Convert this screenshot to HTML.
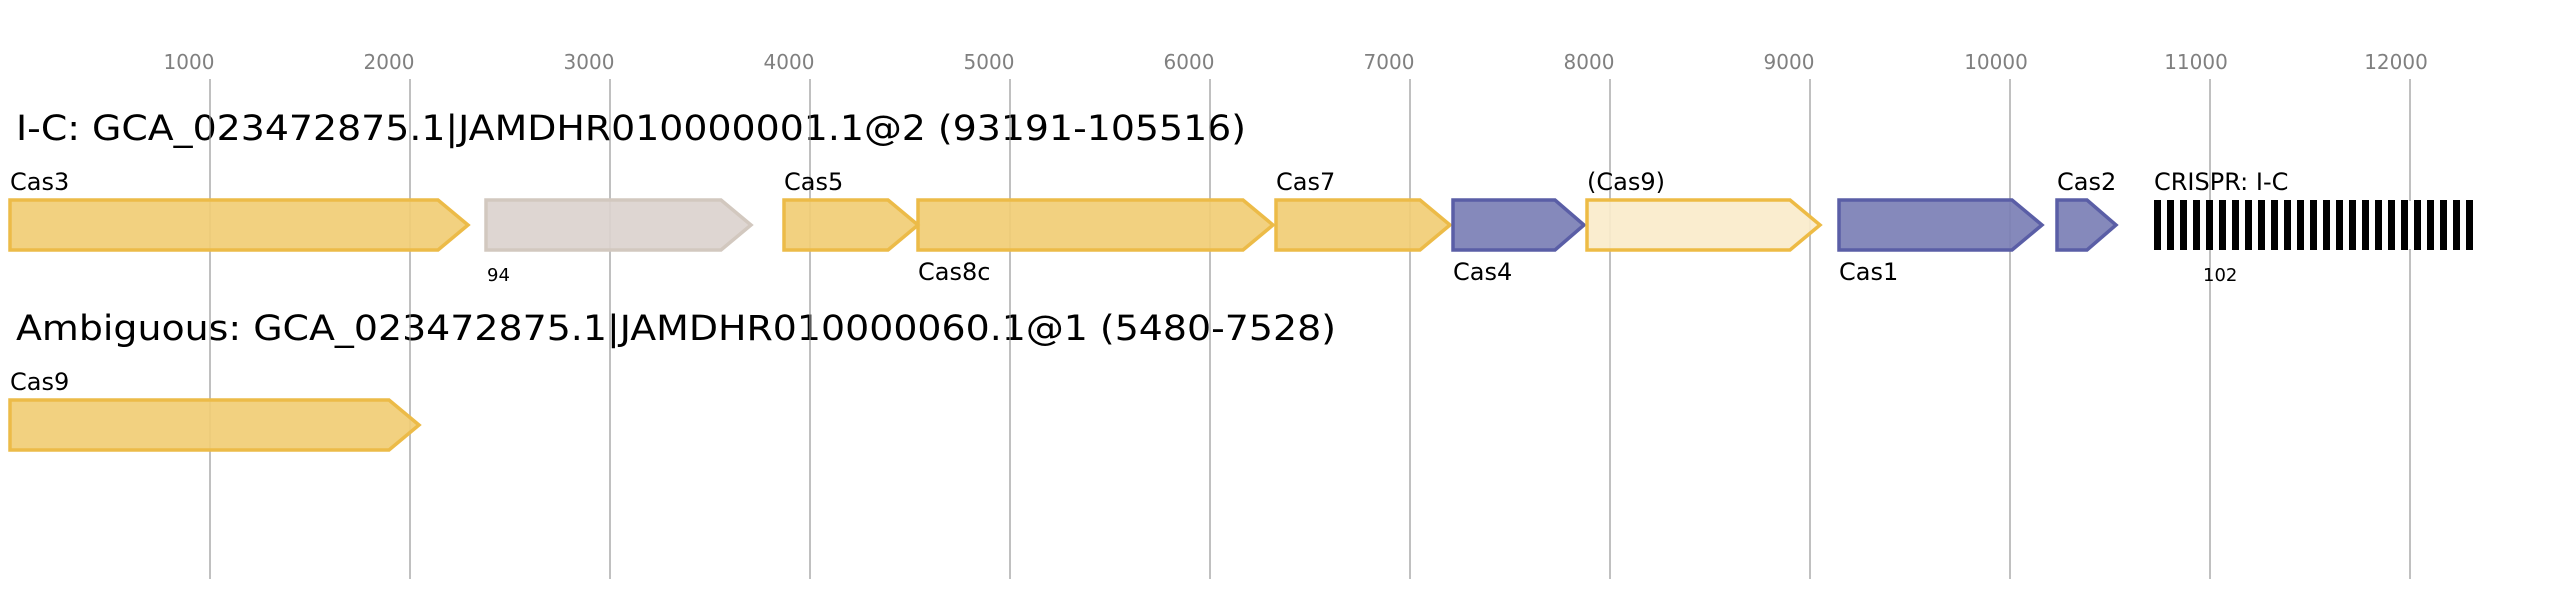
<!DOCTYPE html>
<html><head><meta charset="utf-8"><style>html,body{margin:0;padding:0;background:#fff}svg{display:block}</style></head>
<body>
<svg width="2565" height="600" viewBox="0 0 2565 600" xmlns="http://www.w3.org/2000/svg" font-family="DejaVu Sans, Liberation Sans, sans-serif">
<g font-size="20" fill="#808080" text-anchor="middle">
<text x="189" y="69">1000</text><text x="389" y="69">2000</text><text x="589" y="69">3000</text><text x="789" y="69">4000</text><text x="989" y="69">5000</text><text x="1189" y="69">6000</text><text x="1389" y="69">7000</text><text x="1589" y="69">8000</text><text x="1789" y="69">9000</text><text x="1996" y="69">10000</text><text x="2196" y="69">11000</text><text x="2396" y="69">12000</text>
</g>
<text x="16" y="140" font-size="35" fill="#000" textLength="1230" lengthAdjust="spacingAndGlyphs">I-C: GCA_023472875.1|JAMDHR010000001.1@2 (93191-105516)</text>
<text x="16" y="340" font-size="35" fill="#000" textLength="1320" lengthAdjust="spacingAndGlyphs">Ambiguous: GCA_023472875.1|JAMDHR010000060.1@1 (5480-7528)</text>
<g stroke="rgba(150,150,150,0.6)" stroke-width="2">
<line x1="210" y1="79" x2="210" y2="579"/><line x1="410" y1="79" x2="410" y2="579"/><line x1="610" y1="79" x2="610" y2="579"/><line x1="810" y1="79" x2="810" y2="579"/><line x1="1010" y1="79" x2="1010" y2="579"/><line x1="1210" y1="79" x2="1210" y2="579"/><line x1="1410" y1="79" x2="1410" y2="579"/><line x1="1610" y1="79" x2="1610" y2="579"/><line x1="1810" y1="79" x2="1810" y2="579"/><line x1="2010" y1="79" x2="2010" y2="579"/><line x1="2210" y1="79" x2="2210" y2="579"/><line x1="2410" y1="79" x2="2410" y2="579"/>
</g>
<g stroke-width="3.5" stroke-linejoin="miter" fill-opacity="0.92">
<polygon points="10,200 438,200 468,225 438,250 10,250" fill="#f1cd75" stroke="#ecbb48"/>
<polygon points="486,200 721,200 751,225 721,250 486,250" fill="#dbd3ce" stroke="#d2c8bf"/>
<polygon points="784,200 888,200 918,225 888,250 784,250" fill="#f1cd75" stroke="#ecbb48"/>
<polygon points="918,200 1243,200 1273,225 1243,250 918,250" fill="#f1cd75" stroke="#ecbb48"/>
<polygon points="1276,200 1420,200 1450,225 1420,250 1276,250" fill="#f1cd75" stroke="#ecbb48"/>
<polygon points="1453,200 1555,200 1584,225 1555,250 1453,250" fill="#7b7fb5" stroke="#5a5ea6"/>
<polygon points="1587,200 1790,200 1820,225 1790,250 1587,250" fill="#faebcb" stroke="#edbb45"/>
<polygon points="1839,200 2012,200 2042,225 2012,250 1839,250" fill="#7b7fb5" stroke="#5a5ea6"/>
<polygon points="2057,200 2087,200 2116,225 2087,250 2057,250" fill="#7b7fb5" stroke="#5a5ea6"/>
<polygon points="10,400 389,400 419,425 389,450 10,450" fill="#f1cd75" stroke="#ecbb48"/>
</g>
<rect x="2150" y="201" width="330" height="48" fill="#fff"/>
<g fill="#000">
<rect x="2154" y="200" width="7" height="50"/><rect x="2167" y="200" width="7" height="50"/><rect x="2180" y="200" width="7" height="50"/><rect x="2193" y="200" width="7" height="50"/><rect x="2206" y="200" width="7" height="50"/><rect x="2219" y="200" width="7" height="50"/><rect x="2232" y="200" width="7" height="50"/><rect x="2245" y="200" width="7" height="50"/><rect x="2258" y="200" width="7" height="50"/><rect x="2271" y="200" width="7" height="50"/><rect x="2284" y="200" width="7" height="50"/><rect x="2297" y="200" width="7" height="50"/><rect x="2310" y="200" width="7" height="50"/><rect x="2323" y="200" width="7" height="50"/><rect x="2336" y="200" width="7" height="50"/><rect x="2349" y="200" width="7" height="50"/><rect x="2362" y="200" width="7" height="50"/><rect x="2375" y="200" width="7" height="50"/><rect x="2388" y="200" width="7" height="50"/><rect x="2401" y="200" width="7" height="50"/><rect x="2414" y="200" width="7" height="50"/><rect x="2427" y="200" width="7" height="50"/><rect x="2440" y="200" width="7" height="50"/><rect x="2453" y="200" width="7" height="50"/><rect x="2466" y="200" width="7" height="50"/>
</g>
<g font-size="24" fill="#000">
<text x="10" y="190">Cas3</text><text x="784" y="190">Cas5</text><text x="1276" y="190">Cas7</text><text x="1587" y="190">(Cas9)</text><text x="2057" y="190">Cas2</text><text x="2154" y="190">CRISPR: I-C</text>
<text x="918" y="280">Cas8c</text><text x="1453" y="280">Cas4</text><text x="1839" y="280">Cas1</text>
<text x="10" y="390">Cas9</text>
</g>
<g font-size="18" fill="#000"><text x="487" y="281">94</text><text x="2203" y="281">102</text></g>
</svg>
</body></html>
